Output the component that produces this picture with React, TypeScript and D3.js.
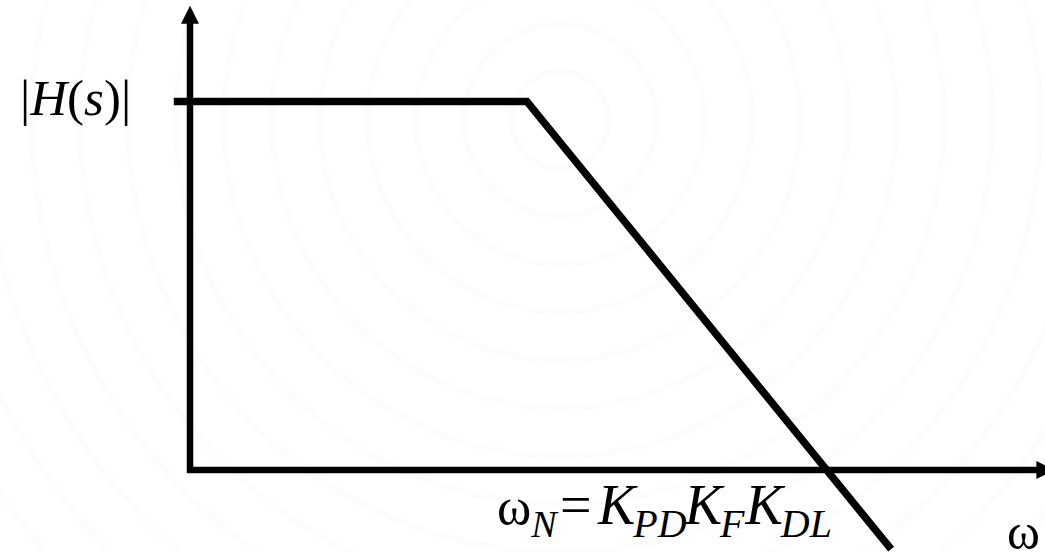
import React from "react";
import * as d3 from "d3";

// Asymptotic magnitude response (breakpoint sketch), arbitrary units
const freqPoints = [-1.9, 39.4, 82.0];
const magPoints = [100, 100, -21.5];

// Axis extents (arbitrary units)
const xAxisExtent = [-0.35, 101.1];
const yAxisExtent = [-0.8, 126];

// Labels
const yLabelParts = ["|", "H", "(", "s", ")", "|"];
const xLabel = "ω";

const W = 1045;
const H = 552;

export default function App() {
  const x = d3.scaleLinear().domain([0, 100]).range([190, 1045]);
  const y = d3.scaleLinear().domain([0, 100]).range([470, 101.5]);

  const pts: [number, number][] = freqPoints.map((f, i) => [x(f), y(magPoints[i])]);
  const line = d3.line<[number, number]>().x((d) => d[0]).y((d) => d[1]);

  const x0 = x(0);
  const y0 = y(0);
  const xEnd = x(xAxisExtent[1]);
  const yTop = y(yAxisExtent[1]);
  const head = 18;
  const hw = 9;

  const circles = d3.range(1, 16).map((i) => i * 48);
  const serif = "'Liberation Serif', 'Times New Roman', serif";
  const main = 56;
  const sub = 40;
  const dy = 13;

  return (
    <svg width={W} height={H} style={{ position: "absolute", left: 0, top: 0, background: "#fff" }}>
      <g fill="none" stroke="#fcfcfc" strokeWidth={6}>
        {circles.map((r) => (
          <circle key={r} cx={560} cy={120} r={r} />
        ))}
      </g>
      {/* Y axis */}
      <line x1={x0} x2={x0} y1={y(yAxisExtent[0])} y2={yTop + head - 1} stroke="#000" strokeWidth={6.5} />
      <path d={`M${x0},${yTop} L${x0 - hw},${yTop + head} L${x0 + hw},${yTop + head} Z`} fill="#000" />
      {/* X axis */}
      <line x1={x(xAxisExtent[0])} x2={xEnd - head + 1} y1={y0} y2={y0} stroke="#000" strokeWidth={6.5} />
      <path d={`M${xEnd},${y0} L${xEnd - head},${y0 - hw} L${xEnd - head},${y0 + hw} Z`} fill="#000" />
      {/* Magnitude curve */}
      <path d={line(pts) || ""} fill="none" stroke="#000" strokeWidth={7.5} strokeLinejoin="miter" />
      {/* Y label */}
      <text x={20} y={115} fontFamily={serif} fontSize={51} fill="#000">
        {yLabelParts.map((p, i) => (
          <tspan key={i} fontStyle={p === "H" || p === "s" ? "italic" : "normal"}>
            {p}
          </tspan>
        ))}
      </text>
      {/* Breakpoint label */}
      <text x={497} y={524} fontFamily={serif} fontSize={main} fill="#000">
        <tspan fontSize={52}>ω</tspan>
        <tspan fontSize={38} fontStyle="italic" dy={dy}>N</tspan>
        <tspan dy={-dy} x={560}>=</tspan>
        <tspan fontStyle="italic" x={598}>K</tspan>
        <tspan fontSize={sub} fontStyle="italic" dy={dy} dx={-2}>PD</tspan>
        <tspan fontStyle="italic" dy={-dy} dx={-2}>K</tspan>
        <tspan fontSize={sub} fontStyle="italic" dy={dy} dx={-2}>F</tspan>
        <tspan fontStyle="italic" dy={-dy} dx={1}>K</tspan>
        <tspan fontSize={sub} fontStyle="italic" dy={dy} dx={-2}>DL</tspan>
      </text>
      <text x={1007} y={549} fontFamily={serif} fontSize={50} fill="#000">
        {xLabel}
      </text>
    </svg>
  );
}
